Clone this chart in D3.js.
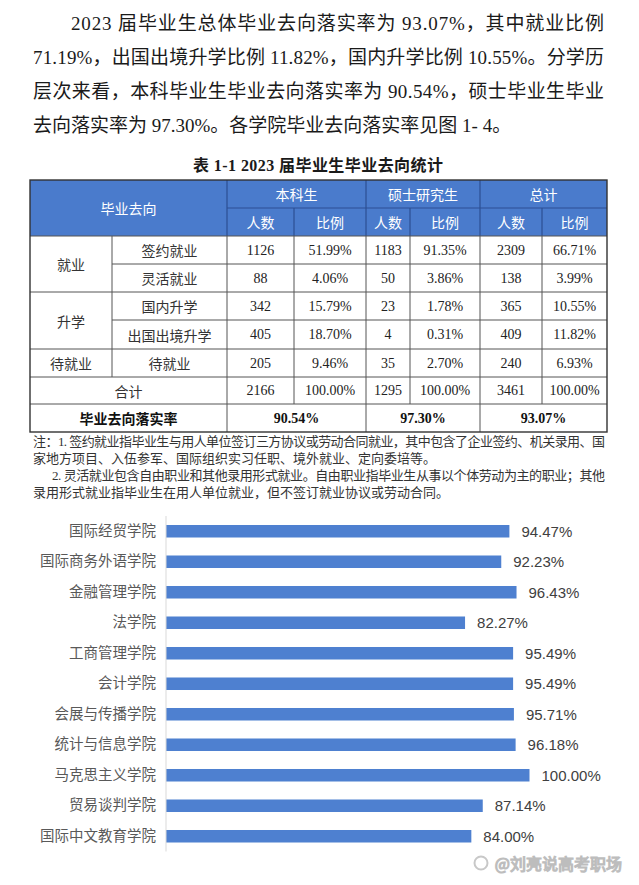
<!DOCTYPE html>
<html><head><meta charset="utf-8">
<script src="https://cdn.jsdelivr.net/npm/d3@7"></script>
<style>body{margin:0;background:#fff}svg{display:block}</style>
</head><body>
<svg id="c" width="639" height="885"></svg>
<script>
// ---------- data ----------
const paragraphLines = [
  "2023 届毕业生总体毕业去向落实率为 93.07%，其中就业比例",
  "71.19%，出国出境升学比例 11.82%，国内升学比例 10.55%。分学历",
  "层次来看，本科毕业生毕业去向落实率为 90.54%，硕士毕业生毕业",
  "去向落实率为 97.30%。各学院毕业去向落实率见图 1- 4。"
];
const tableTitle = "表 1-1 2023 届毕业生毕业去向统计";
const headerTop = ["本科生", "硕士研究生", "总计"];
const headerSub = ["人数", "比例"];
const headerMain = "毕业去向";
const groups = ["就业", "升学", "待就业"];
const destinations = ["签约就业", "灵活就业", "国内升学", "出国出境升学", "待就业"];
const destGroup = ["就业", "就业", "升学", "升学", "待就业"];
const ugCount = [1126, 88, 342, 405, 205];
const ugPct = [51.99, 4.06, 15.79, 18.70, 9.46];
const msCount = [1183, 50, 23, 4, 35];
const msPct = [91.35, 3.86, 1.78, 0.31, 2.70];
const totCount = [2309, 138, 365, 409, 240];
const totPct = [66.71, 3.99, 10.55, 11.82, 6.93];
const sumLabel = "合计";
const sumCount = [2166, 1295, 3461];
const sumPct = [100.00, 100.00, 100.00];
const rateLabel = "毕业去向落实率";
const rates = [90.54, 97.30, 93.07];
const notes = [
  "注：1. 签约就业指毕业生与用人单位签订三方协议或劳动合同就业，其中包含了企业签约、机关录用、国",
  "家地方项目、入伍参军、国际组织实习任职、境外就业、定向委培等。",
  "2. 灵活就业包含自由职业和其他录用形式就业。自由职业指毕业生从事以个体劳动为主的职业；其他",
  "录用形式就业指毕业生在用人单位就业，但不签订就业协议或劳动合同。"
];
const colleges = ["国际经贸学院", "国际商务外语学院", "金融管理学院", "法学院", "工商管理学院", "会计学院",
  "会展与传播学院", "统计与信息学院", "马克思主义学院", "贸易谈判学院", "国际中文教育学院"];
const collegeRates = [94.47, 92.23, 96.43, 82.27, 95.49, 95.49, 95.71, 96.18, 100.00, 87.14, 84.00];
const watermark = "@刘亮说高考职场";

// ---------- layout ----------
const svg = d3.select("#c");
const SERIF = "'Liberation Serif','Noto Sans CJK SC',serif";
const CJK = "'Noto Sans CJK SC',sans-serif";
const pct = v => v.toFixed(2) + "%";

// paragraph
const paraY = [23, 57, 91, 125];
const paraX = [71, 33, 33, 33];
const paraLen = [533, 571, 571, null];
paragraphLines.forEach((t, i) => {
  const el = svg.append("text").attr("x", paraX[i]).attr("y", paraY[i])
    .attr("dominant-baseline", "central")
    .style("font-family", SERIF).style("font-size", "19px").style("fill", "#1a1a1a").text(t);
  if (paraLen[i]) el.attr("textLength", paraLen[i]).attr("lengthAdjust", "spacing");
});

// table title
svg.append("text").attr("x", 318).attr("y", 165).attr("text-anchor", "middle")
  .attr("dominant-baseline", "central").attr("textLength", 250).attr("lengthAdjust", "spacing")
  .style("font-family", SERIF).style("font-weight", "bold").style("font-size", "16px").style("fill", "#1a1a1a")
  .text(tableTitle);

// table geometry
const colX = [30, 112, 227, 294, 366, 410, 480, 542, 607];
const rowY = [180, 208, 236, 264, 292, 320, 349, 377, 404, 432];
const BLUE = "#4a7bcc", HLINE = "#2c4f93", LINE = "#555";

svg.append("rect").attr("x", colX[0]).attr("y", rowY[0]).attr("width", colX[8] - colX[0])
  .attr("height", rowY[2] - rowY[0]).attr("fill", BLUE);

const line = (x1, y1, x2, y2, c, w) => svg.append("line").attr("x1", x1).attr("y1", y1)
  .attr("x2", x2).attr("y2", y2).attr("stroke", c).attr("stroke-width", w || 1);

// header lines
line(colX[2], rowY[1], colX[8], rowY[1], HLINE, 1.2);
[2, 4, 6].forEach(c => line(colX[c], rowY[0], colX[c], rowY[2], HLINE, 1.2));
[3, 5, 7].forEach(c => line(colX[c], rowY[1], colX[c], rowY[2], HLINE, 1.2));

// body horizontal lines
[2, 4, 6, 7, 8].forEach(r => line(colX[0], rowY[r], colX[8], rowY[r], LINE, 1));
[3, 5].forEach(r => line(colX[1], rowY[r], colX[8], rowY[r], LINE, 1));
// body vertical lines
line(colX[1], rowY[2], colX[1], rowY[7], LINE, 1);
[2, 4, 6].forEach(c => line(colX[c], rowY[2], colX[c], rowY[9], LINE, 1));
[3, 5, 7].forEach(c => line(colX[c], rowY[2], colX[c], rowY[8], LINE, 1));
// outer border
svg.append("rect").attr("x", colX[0]).attr("y", rowY[0]).attr("width", colX[8] - colX[0])
  .attr("height", rowY[9] - rowY[0]).attr("fill", "none").attr("stroke", "#333").attr("stroke-width", 1.4);

const cellText = (x, y, t, opts = {}) => svg.append("text").attr("x", x).attr("y", y)
  .attr("text-anchor", "middle").attr("dominant-baseline", "central")
  .style("font-family", opts.font || SERIF).style("font-size", (opts.size || 14) + "px")
  .style("font-weight", opts.bold ? "bold" : "normal").style("fill", opts.fill || "#222").text(t);

const mid = (a, b) => (a + b) / 2;
// header text
cellText(mid(colX[0], colX[2]), mid(rowY[0], rowY[2]), headerMain, {font: CJK, fill: "#fff"});
headerTop.forEach((t, i) => cellText(mid(colX[2 + 2 * i], colX[4 + 2 * i]), mid(rowY[0], rowY[1]), t, {font: CJK, fill: "#fff"}));
[0, 1, 2].forEach(i => headerSub.forEach((t, j) =>
  cellText(mid(colX[2 + 2 * i + j], colX[3 + 2 * i + j]), mid(rowY[1], rowY[2]), t, {font: CJK, fill: "#fff"})));

// group cells
groups.forEach(g => {
  const idx = destGroup.map((d, i) => d === g ? i : -1).filter(i => i >= 0);
  const y0 = rowY[2 + idx[0]], y1 = rowY[3 + idx[idx.length - 1]];
  cellText(mid(colX[0], colX[1]), mid(y0, y1), g, {font: CJK, fill: "#333"});
});
const cols = [ugCount, ugPct, msCount, msPct, totCount, totPct];
destinations.forEach((d, i) => {
  const yc = mid(rowY[2 + i], rowY[3 + i]);
  cellText(mid(colX[1], colX[2]), yc, d, {font: CJK, fill: "#333"});
  cols.forEach((arr, c) => cellText(mid(colX[2 + c], colX[3 + c]), yc, c % 2 ? pct(arr[i]) : arr[i]));
});
// sum row
const ySum = mid(rowY[7], rowY[8]);
cellText(mid(colX[0], colX[2]), ySum, sumLabel, {font: CJK, fill: "#333"});
sumCount.forEach((v, i) => {
  cellText(mid(colX[2 + 2 * i], colX[3 + 2 * i]), ySum, v);
  cellText(mid(colX[3 + 2 * i], colX[4 + 2 * i]), ySum, pct(sumPct[i]));
});
// rate row
const yRate = mid(rowY[8], rowY[9]);
cellText(mid(colX[0], colX[2]), yRate, rateLabel, {font: CJK, bold: true, fill: "#111"});
rates.forEach((v, i) => cellText(mid(colX[2 + 2 * i], colX[4 + 2 * i]), yRate, pct(v), {bold: true, fill: "#111"}));

// notes
const noteY = [441, 458, 475, 492];
const noteX = [33, 33, 52, 33];
const noteLen = [572, null, 553, null];
notes.forEach((t, i) => {
  const el = svg.append("text").attr("x", noteX[i]).attr("y", noteY[i]).attr("dominant-baseline", "central")
    .style("font-family", SERIF).style("font-size", "13px").style("fill", "#333").text(t);
  if (noteLen[i]) el.attr("textLength", noteLen[i]).attr("lengthAdjust", "spacing");
});

// ---------- bar chart ----------
const x = d3.scaleLinear().domain([0, 100]).range([166, 529.5]);
const y = d3.scaleBand().domain(colleges).range([516, 851.5]).paddingInner(0.59).paddingOuter(0.295);

const g = svg.append("g");
g.selectAll("rect.bar").data(colleges).join("rect").attr("class", "bar")
  .attr("x", x(0)).attr("y", d => y(d)).attr("height", y.bandwidth())
  .attr("width", (d, i) => x(collegeRates[i]) - x(0)).attr("fill", "#4e80d0");

const yAxis = d3.axisLeft(y).tickSize(0).tickPadding(10);
const ax = g.append("g").attr("transform", `translate(${x(0)},0)`).call(yAxis);
ax.select(".domain").attr("stroke", "#d9d9d9").attr("d", `M0,516V851.5`);
ax.selectAll(".tick text").style("font-family", CJK).style("font-size", "14.5px").style("fill", "#595959");

g.selectAll("text.val").data(colleges).join("text").attr("class", "val")
  .attr("x", (d, i) => x(collegeRates[i]) + 12).attr("y", d => y(d) + y.bandwidth() / 2)
  .attr("dominant-baseline", "central")
  .style("font-family", "'Liberation Sans',Arial,sans-serif").style("font-size", "15px").style("fill", "#404040")
  .text((d, i) => pct(collegeRates[i]));

// watermark
svg.append("circle").attr("cx", 481).attr("cy", 863).attr("r", 6.5).attr("fill", "none")
  .attr("stroke", "#c8c8c8").attr("stroke-width", 2);
svg.append("text").attr("x", 622).attr("y", 863).attr("text-anchor", "end").attr("dominant-baseline", "central")
  .style("font-family", CJK).style("font-size", "16px").style("fill", "#fff")
  .style("stroke", "#bdbdbd").style("stroke-width", 1.2).text(watermark);
</script>
</body></html>
